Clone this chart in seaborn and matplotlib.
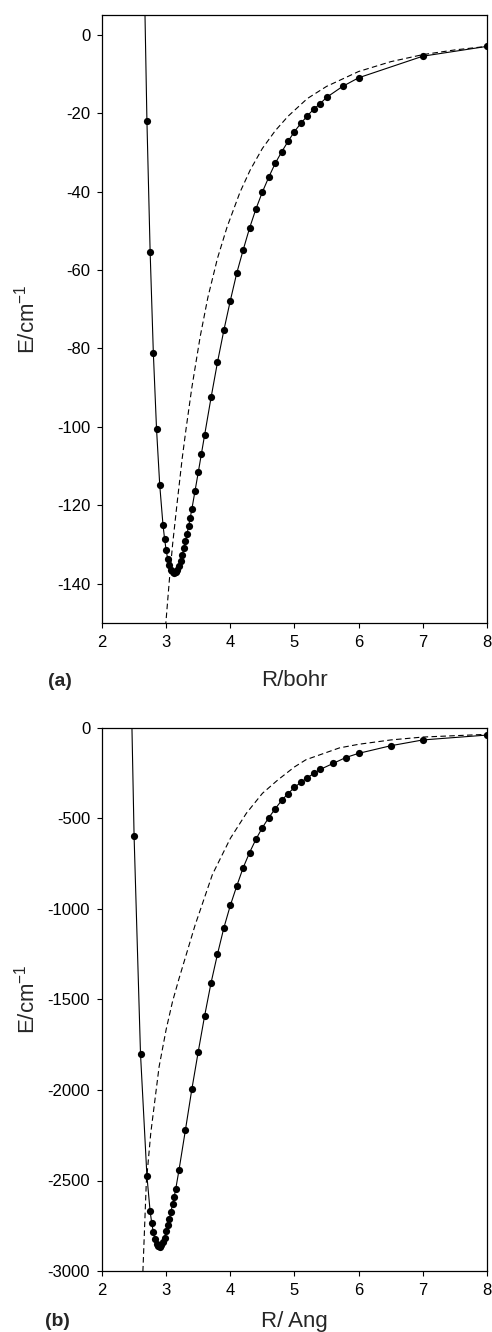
import matplotlib
matplotlib.use("Agg")
import matplotlib.pyplot as plt
import seaborn as sns
import pandas as pd

# ---- (a) potential in bohr ----
r_bohr = [2.65, 2.7, 2.75, 2.8, 2.85, 2.9, 2.95, 2.975, 3.0, 3.025, 3.05, 3.075,
          3.1, 3.125, 3.15, 3.175, 3.2, 3.225, 3.25, 3.275, 3.3, 3.325, 3.35,
          3.375, 3.4, 3.45, 3.5, 3.55, 3.6, 3.7, 3.8, 3.9, 4.0, 4.1, 4.2, 4.3,
          4.4, 4.5, 4.6, 4.7, 4.8, 4.9, 5.0, 5.1, 5.2, 5.3, 5.4, 5.5, 5.75,
          6.0, 7.0, 8.0]
e_bohr = [23.0, -21.9, -55.3, -81.1, -100.6, -114.9, -124.9, -128.5, -131.5,
          -133.7, -135.3, -136.4, -137.0, -137.2, -137.0, -136.4, -135.5,
          -134.2, -132.7, -131.0, -129.2, -127.3, -125.3, -123.2, -121.0,
          -116.3, -111.6, -106.8, -102.0, -92.5, -83.5, -75.3, -67.8, -60.8,
          -54.9, -49.3, -44.4, -40.1, -36.3, -32.8, -29.9, -27.2, -24.7, -22.6,
          -20.7, -19.0, -17.6, -16.0, -13.2, -11.0, -5.5, -3.0]

r_bohr_fit = [2.99, 3.0, 3.05, 3.1, 3.17, 3.25, 3.31, 3.4, 3.53, 3.65, 3.8,
              3.95, 4.15, 4.31, 4.5, 4.7, 4.9, 5.2, 5.5, 6.0, 6.5, 7.0, 7.5, 8.0]
e_bohr_fit = [-151.0, -149.0, -139.0, -130.0, -119.5, -108.0, -100.5, -90.0,
              -77.0, -67.0, -57.0, -49.0, -40.2, -34.5, -29.0, -24.5, -20.8,
              -16.3, -13.2, -9.4, -6.9, -5.1, -3.9, -3.0]

# ---- (b) potential in Angstrom ----
r_ang = [2.4, 2.5, 2.6, 2.7, 2.75, 2.775, 2.8, 2.825, 2.85, 2.875, 2.9, 2.925,
         2.95, 2.975, 3.0, 3.025, 3.05, 3.075, 3.1, 3.125, 3.15, 3.2, 3.3, 3.4,
         3.5, 3.6, 3.7, 3.8, 3.9, 4.0, 4.1, 4.2, 4.3, 4.4, 4.5, 4.6, 4.7, 4.8,
         4.9, 5.0, 5.1, 5.2, 5.3, 5.4, 5.6, 5.8, 6.0, 6.5, 7.0, 8.0]
e_ang = [1200, -597, -1800, -2475, -2670, -2735, -2785, -2825, -2850, -2862,
         -2865, -2858, -2840, -2815, -2780, -2745, -2710, -2672, -2632, -2590,
         -2545, -2442, -2221, -1996, -1788, -1589, -1407, -1249, -1103, -980,
         -873, -772, -688, -614, -550, -495, -446, -400, -362, -328, -300,
         -275, -251, -229, -196, -163, -140, -98, -66, -39]

r_ang_fit = [2.62, 2.64, 2.69, 2.76, 2.89, 3.0, 3.1, 3.2, 3.45, 3.72, 4.0,
             4.25, 4.5, 4.74, 5.0, 5.18, 5.7, 6.0, 6.5, 7.0, 8.0]
e_ang_fit = [-3150, -2978, -2514, -2238, -1871, -1665, -1510, -1385, -1090,
             -810, -610, -471, -361, -287, -215, -175, -110, -90, -66, -50, -35]

x_ticks = [2, 3, 4, 5, 6, 7, 8]

sns.set_style("ticks")
plt.rcParams["font.family"] = ["Liberation Sans", "DejaVu Sans"]
plt.rcParams["mathtext.default"] = "regular"
plt.rcParams["axes.unicode_minus"] = False

W, H = 492, 1332
fig = plt.figure(figsize=(W / 100, H / 100), dpi=100)
ax1 = fig.add_axes([102 / W, 1 - 623 / H, 385 / W, 608 / H])
ax2 = fig.add_axes([102 / W, 1 - 1271 / H, 385 / W, 543 / H])

panels = [
    (ax1, r_bohr, e_bohr, r_bohr_fit, e_bohr_fit, (-150, 5),
     [0, -20, -40, -60, -80, -100, -120, -140], "R/bohr"),
    (ax2, r_ang, e_ang, r_ang_fit, e_ang_fit, (-3000, 0),
     [0, -500, -1000, -1500, -2000, -2500, -3000], "R/ Ang"),
]

for ax, rx, ey, rfx, efy, ylim, yticks, xlab in panels:
    pts = pd.DataFrame({"R": rx, "E": ey})
    fit = pd.DataFrame({"R": rfx, "E": efy})
    # model curve (dashed) and computed points joined by a solid line
    sns.lineplot(data=fit, x="R", y="E", ax=ax, sort=False, estimator=None,
                 color="black", linewidth=0.8, linestyle=(0, (5, 3)))
    sns.lineplot(data=pts, x="R", y="E", ax=ax, sort=False, estimator=None,
                 color="black", linewidth=0.8, marker="o", markersize=5.2,
                 markeredgewidth=0, markerfacecolor="black")
    ax.set_xlim(2, 8)
    ax.set_ylim(*ylim)
    ax.set_xticks(x_ticks)
    ax.set_yticks(yticks)
    ax.tick_params(axis="both", direction="out", length=3.5, width=0.8,
                   labelsize=12, color="black", labelcolor="black", pad=5)
    for sp in ax.spines.values():
        sp.set_visible(True)
        sp.set_color("black")
        sp.set_linewidth(0.9)
    ax.set_xlabel(xlab, fontsize=16)
    ax.xaxis.label.set_va("center")
    ax.set_ylabel("E/cm$^{-1}$", fontsize=16)
    ax.yaxis.label.set_va("center")
    ax.yaxis.label.set_ha("center")

ax1.xaxis.set_label_coords(0.5, -(681 - 623) / 608)
ax1.yaxis.set_label_coords(-(102 - 27) / 385, 0.5)
ax2.xaxis.set_label_coords(0.5, -(1322 - 1271) / 543)
ax2.yaxis.set_label_coords(-(102 - 27) / 385, 0.5)

fig.text(48 / W, 1 - 681 / H, "(a)", fontsize=14, fontweight="bold",
         ha="left", va="center")
fig.text(45 / W, 1 - 1322 / H, "(b)", fontsize=14, fontweight="bold",
         ha="left", va="center")

fig.savefig("out.png", dpi=100)
